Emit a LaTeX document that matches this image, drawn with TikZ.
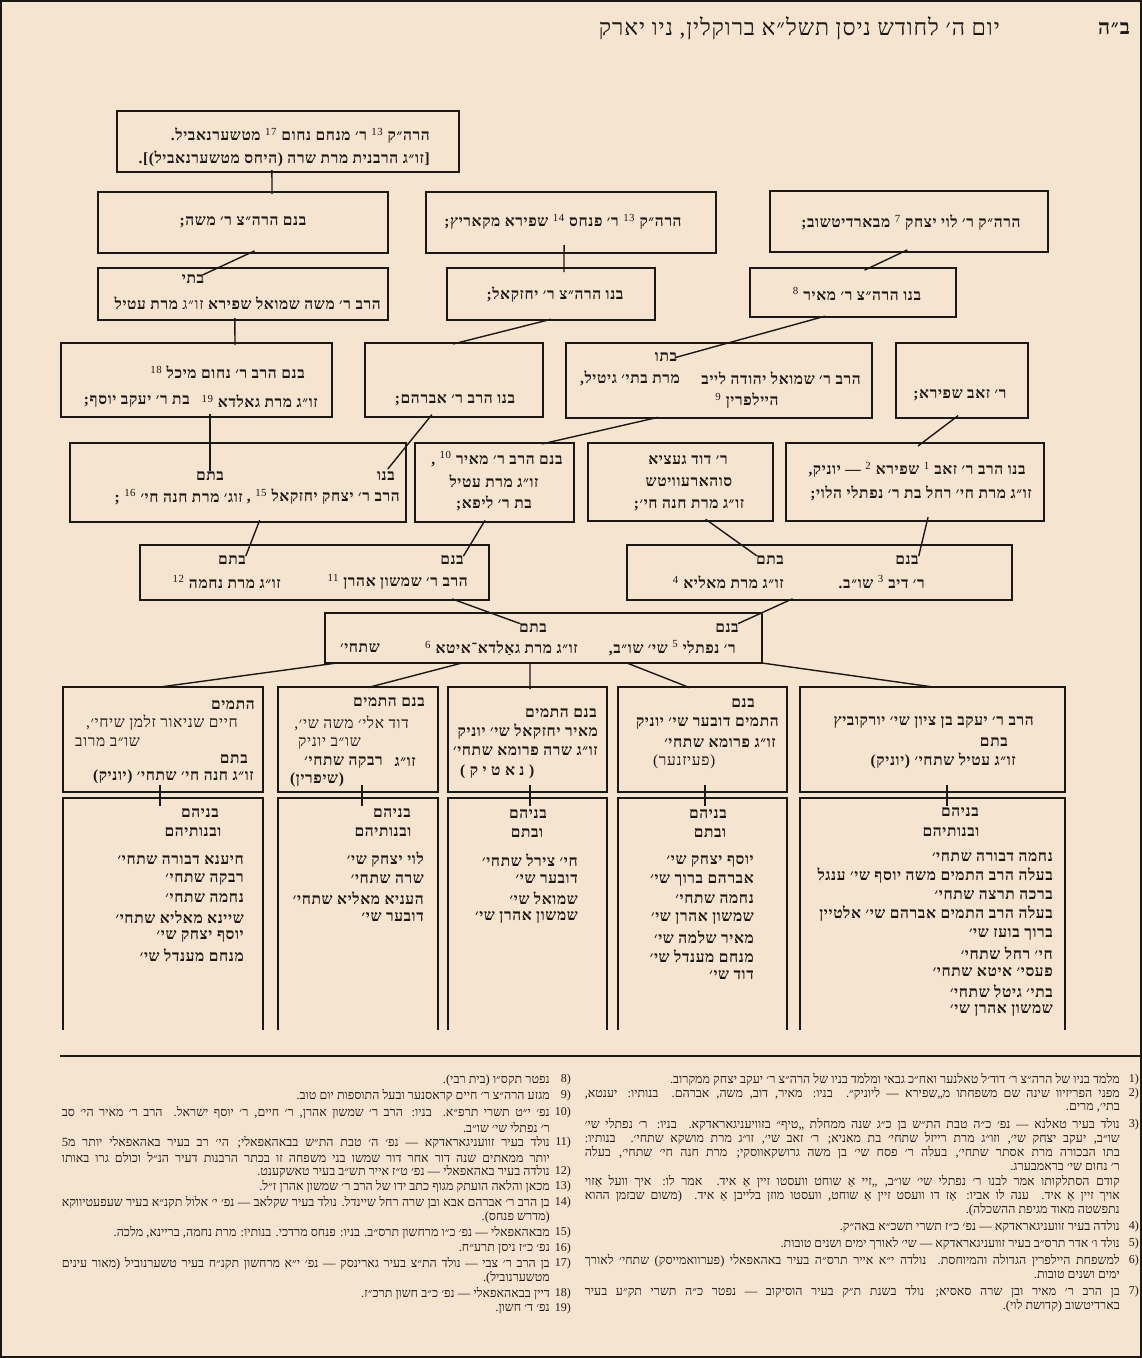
\documentclass[tikz,border=0pt]{standalone}
\usepackage{fontspec}
\setmainfont{Liberation Serif}
\newfontfamily\hebfont[Script=Hebrew,LetterSpace=4]{Liberation Serif}
\newfontfamily\hebplain[Script=Hebrew]{Liberation Serif}
\usetikzlibrary{calc}
\TeXXeTstate=1
\definecolor{paper}{RGB}{245,228,208}
\definecolor{ink}{RGB}{28,24,22}
\newcommand\HR[1]{\beginR#1\endR}
\newcommand\JL[2]{\hbox to #1{#2}}
\newcommand\fm[1]{\textsuperscript{\mdseries #1}}
\newcommand\BX[5]{\node[box,anchor=north west,minimum width=#4,minimum height=#5] (#1) at (#2,#3) {};}
% open-bottom box: name, left x, right x
\newcommand\KB[3]{\coordinate (#1nw) at (#2,798); \coordinate (#1ne) at (#3,798);
  \draw[ink,line width=1.3pt] (#2,1030) -- (#1nw) -- (#1ne) -- (#3,1030);}
\tikzset{
  box/.style={draw=ink,line width=1.3pt,inner sep=0pt,outer sep=0pt},
  link/.style={draw=ink,line width=1.4pt},
  tb/.style={font=\hebfont\bfseries\fontsize{15.5}{17}\selectfont,text=ink,inner sep=0pt},
  jb/.style={font=\hebfont\bfseries\fontsize{15.5}{17}\selectfont,text=ink,inner sep=0pt},
  jr/.style={font=\hebfont\fontsize{15.5}{17}\selectfont,text=ink,inner sep=0pt},
  fnt/.style={font=\hebplain\fontsize{12.5}{14}\selectfont,text=ink,inner sep=0pt,anchor=east},
  fnum/.style={font=\hebplain\fontsize{12}{14}\selectfont,text=ink,inner sep=0pt,anchor=east},
}
\begin{document}
\begin{tikzpicture}[x=1pt,y=-1pt]
\fill[paper] (0,0) rectangle (1142,1358);
\useasboundingbox (0,0) rectangle (1142,1358);
\draw[ink,line width=1.6pt] (1,1) rectangle (1141,1357);

% header
\node[tb,font=\hebfont\bfseries\fontsize{21}{23}\selectfont] (bh) at (1114,28) {\HR{ב״ה}};
\node[tb,anchor=east,font=\hebfont\fontsize{23}{25}\selectfont] (date) at (1000,28) {\HR{יום ה׳ לחודש ניסן תשל״א ברוקלין, ניו יארק}};

% row 1
\BX{A}{117}{111}{342}{61}
\node[tb,anchor=east] (a1) at (430,136) {\HR{הרה״ק \fm{13} ר׳ מנחם נחום \fm{17} מטשערנאביל.}};
\node[tb,anchor=east] (a2) at (430,159) {\HR{[זו״ג הרבנית מרת שרה (היחס מטשערנאביל)].}};

% row 2
\BX{B1}{98}{192}{290}{61}
\node[tb] (b1) at (243,222) {\HR{בנם הרה״צ ר׳ משה;}};
\BX{D1}{426}{192}{290}{61}
\node[tb] (d1) at (563,222) {\HR{הרה״ק \fm{13} ר׳ פנחס \fm{14} שפירא מקאריץ;}};
\BX{E1}{770}{191}{278}{61}
\node[tb] (e1) at (911,223) {\HR{הרה״ק ר׳ לוי יצחק \fm{7} מבארדיטשוב;}};

% row 3
\BX{C1}{98}{268}{290}{52}
\node[tb] (c1h) at (193,279) {\HR{בתי}};
\node[tb,anchor=east] (c1l) at (381,303) {\HR{הרב ר׳ משה שמואל שפירא {\mdseries זו״ג} מרת עטיל}};
\BX{D2}{447}{268}{208}{52}
\node[tb] (d2) at (555,295) {\HR{בנו הרה״צ ר׳ יחזקאל;}};
\BX{E2}{750}{268}{206}{49}
\node[tb] (e2) at (857,294) {\HR{בנו הרה״צ ר׳ מאיר \fm{8}}};

% row 4
\BX{F1}{61}{343}{271}{74}
\node[tb,anchor=east] (f1a) at (305,372) {\HR{בנם הרב ר׳ נחום מיכל \fm{18}}};
\node[tb,anchor=east] (f1b) at (318,401) {\HR{זו״ג מרת גאלדא \fm{19}}};
\node[tb,anchor=east] (f1c) at (190,401) {\HR{בת ר׳ יעקב יוסף;}};
\BX{F2}{365}{343}{178}{74}
\node[tb] (f2) at (455,400) {\HR{בנו הרב ר׳ אברהם;}};
\BX{F3}{566}{343}{306}{75}
\node[tb] (f3h) at (666,357) {\HR{בתו}};
\node[tb,anchor=east] (f3a) at (861,378) {\HR{הרב ר׳ שמואל יהודה לייב}};
\node[tb,anchor=east] (f3b) at (680,378) {\HR{מרת בתי׳ גיטיל,}};
\node[tb] (f3c) at (747,401) {\HR{היילפרין \fm{9}}};
\BX{F4}{896}{343}{132}{75}
\node[tb] (f4) at (960,395) {\HR{ר׳ זאב שפירא;}};

% row 5
\BX{G1}{70}{443}{336}{79}
\node[tb] (g1n) at (386,476) {\HR{בנו}};
\node[tb] (g1t) at (210,476) {\HR{בתם}};
\node[tb,anchor=east] (g1a) at (400,497) {\HR{הרב ר׳ יצחק יחזקאל \fm{15} ,}};
\node[tb,anchor=east] (g1b) at (243,497) {\HR{זוג׳ מרת חנה חי׳ \fm{16} ;}};
\BX{G2}{415}{443}{159}{79}
\node[tb] (g2a) at (497,459) {\HR{בנם הרב ר׳ מאיר \fm{10} ,}};
\node[tb] (g2b) at (494,481) {\HR{זו״ג מרת עטיל}};
\node[tb] (g2c) at (494,503) {\HR{בת ר׳ ליפא;}};
\BX{G3}{588}{443}{185}{78}
\node[tb] (g3a) at (688,460) {\HR{ר׳ דוד געציא}};
\node[tb] (g3b) at (689,482) {\HR{סוהארעוויטש}};
\node[tb] (g3c) at (689,505) {\HR{זו״ג מרת חנה חי׳;}};
\BX{G4}{786}{443}{258}{78}
\node[tb] (g4a) at (917,470) {\HR{בנו הרב ר׳ זאב \fm{1} שפירא \fm{2} — יוניק,}};
\node[tb] (g4b) at (921,493) {\HR{זו״ג מרת חי׳ רחל בת ר׳ נפתלי הלוי;}};

% row 6
\BX{H1}{140}{545}{349}{55}
\node[tb] (h1n) at (452,560) {\HR{בנם}};
\node[tb] (h1t) at (232,560) {\HR{בתם}};
\node[tb,anchor=east] (h1a) at (468,582) {\HR{הרב ר׳ שמשון אהרן \fm{11}}};
\node[tb,anchor=east] (h1b) at (281,582) {\HR{זו״ג מרת נחמה \fm{12}}};
\BX{H2}{627}{545}{385}{55}
\node[tb] (h2n) at (907,560) {\HR{בנם}};
\node[tb] (h2t) at (770,560) {\HR{בתם}};
\node[tb,anchor=east] (h2a) at (925,582) {\HR{ר׳ דיב \fm{3} שו״ב.}};
\node[tb,anchor=east] (h2b) at (784,582) {\HR{זו״ג מרת מאליא \fm{4}}};

% row 7
\BX{I}{325}{613}{437}{50}
\node[tb] (in) at (727,628) {\HR{בנם}};
\node[tb] (it) at (533,628) {\HR{בתם}};
\node[tb,anchor=east] (ia) at (736,648) {\HR{ר׳ נפתלי \fm{5} שי׳ שו״ב,}};
\node[tb,anchor=east] (ib) at (578,648) {\HR{זו״ג מרת גאַלדא־איטא \fm{6}}};
\node[tb,anchor=east] (ic) at (380,648) {\HR{שתחי׳}};

% row 8
\BX{J1}{63}{687}{200}{105}
\node[jb,anchor=east] (j1a) at (255,705) {\HR{התמים}};
\node[jr,anchor=east] (j1b) at (238,723) {\HR{חיים שניאור זלמן שיחי׳,}};
\node[jr,anchor=west] (j1c) at (75,742) {\HR{שו״ב מרוב}};
\node[jb,anchor=east] (j1d) at (248,759) {\HR{בתם}};
\node[jb,anchor=east] (j1e) at (254,777) {\HR{זו״ג חנה חי׳ שתחי׳ (יוניק)}};
\BX{J2}{278}{687}{160}{105}
\node[jb,anchor=east] (j2a) at (425,702) {\HR{בנם התמים}};
\node[jr,anchor=east] (j2b) at (409,723) {\HR{דוד אלי׳ משה שי׳,}};
\node[jr,anchor=east] (j2c) at (361,743) {\HR{שו״ב יוניק}};
\node[jb,anchor=east] (j2d2) at (416,762) {\HR{זו״ג}};
\node[jb,anchor=east] (j2d) at (383,762) {\HR{רבקה שתחי׳}};
\node[jb,anchor=west] (j2e) at (290,780) {\HR{(שיפרין)}};
\BX{J3}{448}{687}{159}{105}
\node[jb,anchor=east] (j3a) at (597,713) {\HR{בנם התמים}};
\node[jb,anchor=east] (j3b) at (598,732) {\HR{מאיר יחזקאל שי׳ יוניק}};
\node[jb,anchor=east] (j3c) at (598,751) {\HR{זו״ג שרה פרומא שתחי׳}};
\node[jb,anchor=west] (j3d) at (460,772) {\HR{( נ א ט י ק )}};
\BX{J4}{618}{687}{169}{105}
\node[jb,anchor=east] (j4a) at (755,703) {\HR{בנם}};
\node[jb,anchor=east] (j4b) at (779,723) {\HR{התמים דובער שי׳ יוניק}};
\node[jb,anchor=east] (j4c) at (776,743) {\HR{זו״ג פרומא שתחי׳}};
\node[jr,anchor=west] (j4d) at (653,762) {\HR{(פעיזנער)}};
\BX{J5}{800}{687}{265}{105}
\node[jb,anchor=east] (j5a) at (1034,722) {\HR{הרב ר׳ יעקב בן ציון שי׳ יורקוביץ}};
\node[jb,anchor=east] (j5b) at (1008,742) {\HR{בתם}};
\node[jb,anchor=east] (j5c) at (1016,761) {\HR{זו״ג עטיל שתחי׳ (יוניק)}};

% row 9 (open-bottom boxes)
\KB{K1}{63}{263}
\KB{K2}{278}{438}
\KB{K3}{448}{607}
\KB{K4}{618}{787}
\KB{K5}{800}{1065}

\node[jb] (k1h) at (200,813) {\HR{בניהם}};
\node[jb] (k1g) at (193,832) {\HR{ובנותיהם}};
\node[jb,anchor=east] (k1a) at (244,860) {\HR{חיענא דבורה שתחי׳}};
\node[jb,anchor=east] (k1b) at (244,879) {\HR{רבקה שתחי׳}};
\node[jb,anchor=east] (k1c) at (244,898) {\HR{נחמה שתחי׳}};
\node[jb,anchor=east] (k1d) at (244,917) {\HR{שיינא מאליא שתחי׳}};
\node[jb,anchor=east] (k1e) at (244,936) {\HR{יוסף יצחק שי׳}};
\node[jb,anchor=east] (k1f) at (244,955) {\HR{מנחם מענדל שי׳}};

\node[jb] (k2h) at (392,813) {\HR{בניהם}};
\node[jb] (k2g) at (383,832) {\HR{ובנותיהם}};
\node[jb,anchor=east] (k2a) at (424,860) {\HR{לוי יצחק שי׳}};
\node[jb,anchor=east] (k2b) at (424,879) {\HR{שרה שתחי׳}};
\node[jb,anchor=east] (k2c) at (424,898) {\HR{העניא מאליא שתחי׳}};
\node[jb,anchor=east] (k2d) at (424,917) {\HR{דובער שי׳}};

\node[jb] (k3h) at (528,814) {\HR{בניהם}};
\node[jb] (k3g) at (527,833) {\HR{ובתם}};
\node[jb,anchor=east] (k3a) at (578,860) {\HR{חי׳ צירל שתחי׳}};
\node[jb,anchor=east] (k3b) at (578,879) {\HR{דובער שי׳}};
\node[jb,anchor=east] (k3c) at (578,898) {\HR{שמואל שי׳}};
\node[jb,anchor=east] (k3d) at (578,917) {\HR{שמשון אהרן שי׳}};

\node[jb] (k4h) at (708,814) {\HR{בניהם}};
\node[jb] (k4g) at (710,833) {\HR{ובתם}};
\node[jb,anchor=east] (k4a) at (754,861) {\HR{יוסף יצחק שי׳}};
\node[jb,anchor=east] (k4b) at (754,880) {\HR{אברהם ברוך שי׳}};
\node[jb,anchor=east] (k4c) at (754,899) {\HR{נחמה שתחי׳}};
\node[jb,anchor=east] (k4d) at (754,918) {\HR{שמשון אהרן שי׳}};
\node[jb,anchor=east] (k4e) at (754,937) {\HR{מאיר שלמה שי׳}};
\node[jb,anchor=east] (k4f) at (754,956) {\HR{מנחם מענדל שי׳}};
\node[jb,anchor=east] (k4g2) at (754,975) {\HR{דוד שי׳}};

\node[jb] (k5h) at (960,812) {\HR{בניהם}};
\node[jb] (k5g) at (951,832) {\HR{ובנותיהם}};
\node[jb,anchor=east] (k5a) at (1053,857) {\HR{נחמה דבורה שתחי׳}};
\node[jb,anchor=east] (k5b) at (1053,876) {\HR{בעלה הרב התמים משה יוסף שי׳ ענגל}};
\node[jb,anchor=east] (k5c) at (1053,895) {\HR{ברכה תרצה שתחי׳}};
\node[jb,anchor=east] (k5d) at (1053,914) {\HR{בעלה הרב התמים אברהם שי׳ אלטיין}};
\node[jb,anchor=east] (k5e) at (1053,934) {\HR{ברוך בועז שי׳}};
\node[jb,anchor=east] (k5f) at (1053,953) {\HR{חי׳ רחל שתחי׳}};
\node[jb,anchor=east] (k5g2) at (1053,972) {\HR{פעסי׳ איטא שתחי׳}};
\node[jb,anchor=east] (k5i) at (1053,991) {\HR{בתי׳ גיטל שתחי׳}};
\node[jb,anchor=east] (k5j) at (1053,1010) {\HR{שמשון אהרן שי׳}};

% connectors
\draw[link,shorten <=-2pt,shorten >=-2pt] ($(A.south west)!0.453!(A.south east)$) -- ($(B1.north west)!0.6!(B1.north east)$);
\draw[link,shorten <=-5pt,shorten >=-2pt] ($(B1.south west)!0.524!(B1.south east)$) -- (c1h.north east);
\draw[link,shorten <=-8pt,shorten >=-4pt] ($(D1.south west)!0.476!(D1.south east)$) -- ($(D2.north west)!0.5625!(D2.north east)$);
\draw[link,shorten <=-5pt,shorten >=-5pt] ($(E1.south west)!0.478!(E1.south east)$) -- ($(E2.north west)!0.578!(E2.north east)$);
\draw[link,shorten <=-2pt,shorten >=-2pt] ($(C1.south west)!0.472!(C1.south east)$) -- ($(F1.north west)!0.642!(F1.north east)$);
\draw[link,shorten <=-3pt,shorten >=-4pt] ($(D2.south west)!0.486!(D2.south east)$) -- ($(F2.north west)!0.517!(F2.north east)$);
\draw[link,shorten <=-3pt,shorten >=-2pt] ($(E2.south west)!0.35!(E2.south east)$) -- (f3h.east);
\draw[link,shorten <=-3pt] (F1.south -| g1t.north) -- (g1t.north);
\draw[link,shorten <=-3pt,shorten >=3pt] ($(F2.south west)!0.365!(F2.south east)$) -- (g1n.north);
\draw[link,shorten <=-3pt,shorten >=-4pt] ($(F3.south west)!0.291!(F3.south east)$) -- ($(G2.north west)!0.824!(G2.north east)$);
\draw[link,shorten <=-4pt,shorten >=-5pt] ($(F4.south west)!0.447!(F4.south east)$) -- ($(G4.north west)!0.527!(G4.north east)$);
\draw[link,shorten <=-2pt,shorten >=-1pt] ($(G1.south west)!0.5625!(G1.south east)$) -- (h1t.north east);
\draw[link,shorten <=-2pt,shorten >=-1pt] ($(G2.south west)!0.434!(G2.south east)$) -- (h1n.north east);
\draw[link,shorten <=-3pt,shorten >=-1pt] ($(G3.south west)!0.649!(G3.south east)$) -- (h2t.north west);
\draw[link,shorten <=-4pt,shorten >=-1pt] ($(G4.south west)!0.547!(G4.south east)$) -- (h2n.north east);
\draw[link,shorten <=-3pt,shorten >=-1pt] ($(H1.south west)!0.9026!(H1.south east)$) -- (it.north west);
\draw[link,shorten <=-3pt,shorten >=-1pt] ($(H2.south west)!0.423!(H2.south east)$) -- (in.north east);
\draw[link,shorten >=-2pt] ($(I.south west)!0.027!(I.south east)$) -- ($(J1.north west)!0.485!(J1.north east)$);
\draw[link,shorten >=-2pt] ($(I.south west)!0.3135!(I.south east)$) -- ($(J2.north west)!0.575!(J2.north east)$);
\draw[link,shorten >=-2pt] ($(I.south west)!0.469!(I.south east)$) -- ($(J3.north west)!0.516!(J3.north east)$);
\draw[link,shorten >=-2pt] ($(I.south west)!0.691!(I.south east)$) -- ($(J4.north west)!0.414!(J4.north east)$);
\draw[link,shorten >=-2pt] (I.south east) -- ($(J5.north west)!0.502!(J5.north east)$);
\draw[link,shorten <=-7pt,shorten >=-8pt] ($(J1.south west)!0.485!(J1.south east)$) -- ($(K1nw)!0.485!(K1ne)$);
\draw[link,shorten <=-7pt,shorten >=-8pt] ($(J2.south west)!0.525!(J2.south east)$) -- ($(K2nw)!0.525!(K2ne)$);
\draw[link,shorten <=-7pt,shorten >=-8pt] ($(J3.south west)!0.516!(J3.south east)$) -- ($(K3nw)!0.516!(K3ne)$);
\draw[link,shorten <=-7pt,shorten >=-8pt] ($(J4.south west)!0.515!(J4.south east)$) -- ($(K4nw)!0.515!(K4ne)$);
\draw[link,shorten <=-7pt,shorten >=-8pt] ($(J5.south west)!0.555!(J5.south east)$) -- ($(K5nw)!0.555!(K5ne)$);

% separator
\coordinate (sepL) at (60,1056);
\coordinate (sepR) at (1140,1056);
\draw[ink,line width=1.5pt] (sepL) -- (sepR);

% footnotes right column
\node[fnum] (m1) at (1139,1080) {(1};
\node[fnt] (r1) at (1120,1080) {\HR{מלמד בניו של הרה״צ ר׳ דוד׳ל טאלנער ואח״כ גבאי ומלמד בניו של הרה״צ ר׳ יעקב יצחק ממקרוב.}};
\node[fnum] (m2) at (1139,1094) {(2};
\node[fnt] (r2a) at (1120,1094) {\JL{535pt}{\HR{מפני הפריזיוו שינה שם משפחתו מ„שפירא — ליוניק״. בניו: מאיר, דוב, משה, אברהם. בנותיו: יענטא,}}};
\node[fnt] (r2b) at (1120,1108) {\HR{בתי׳, מרים.}};
\node[fnum] (m3) at (1139,1125) {(3};
\node[fnt] (r3a) at (1120,1125) {\JL{535pt}{\HR{נולד בעיר טאלנא — נפ׳ כ״ה טבת הת״ש בן כ״ג שנה ממחלת „טיף״ בזוויעניגאראדקא. בניו: ר׳ נפתלי שי׳}}};
\node[fnt] (r3b) at (1120,1139) {\JL{535pt}{\HR{שו״ב, יעקב יצחק שי׳, וזו״ג מרת רייזל שתחי׳ בת מאניא; ר׳ זאב שי׳, זו״ג מרת מושקא שתחי׳. בנותיו:}}};
\node[fnt] (r3c) at (1120,1153) {\JL{535pt}{\HR{בתו הבכורה מרת אסתר שתחי׳, בעלה ר׳ פסח שי׳ בן משה גרושקאווסקי; מרת חנה חי׳ שתחי׳, בעלה}}};
\node[fnt] (r3d) at (1120,1167) {\HR{ר׳ נחום שי׳ בראמבערג.}};
\node[fnt] (r3e) at (1120,1182) {\JL{535pt}{\HR{קודם הסתלקותו אמר לבנו ר׳ נפתלי שי׳ שו״ב, „זיי אַ שוחט וועסטו זיין אַ איד. אמר לו: איך וועל אַזוי}}};
\node[fnt] (r3f) at (1120,1196) {\JL{535pt}{\HR{אויך זיין אַ איד. ענה לו אביו: אַז דו וועסט זיין אַ שוחט, וועסטו מוזן בלייבן אַ איד. (משום שבזמן ההוא}}};
\node[fnt] (r3g) at (1120,1210) {\HR{נתפשטה מאוד מגיפת ההשכלה).}};
\node[fnum] (m4) at (1139,1227) {(4};
\node[fnt] (r4) at (1120,1227) {\HR{נולדה בעיר זוועניגאראדקא — נפ׳ כ״ז תשרי תשכ״א באה״ק.}};
\node[fnum] (m5) at (1139,1244) {(5};
\node[fnt] (r5) at (1120,1244) {\HR{נולד ו׳ אדר תרס״ב בעיר זוועניגאראדקא — שי׳ לאורך ימים ושנים טובות.}};
\node[fnum] (m6) at (1139,1261) {(6};
\node[fnt] (r6a) at (1120,1261) {\JL{535pt}{\HR{למשפחת היילפרין הגדולה והמיוחסת. נולדה י״א אייר תרס״ה בעיר באהאפאלי (פערוואמייסק) שתחי׳ לאורך}}};
\node[fnt] (r6b) at (1120,1275) {\HR{ימים ושנים טובות.}};
\node[fnum] (m7) at (1139,1292) {(7};
\node[fnt] (r7a) at (1120,1292) {\JL{535pt}{\HR{בן הרב ר׳ מאיר ובן שרה סאסיא; נולד בשנת ת״ק בעיר הוסיקוב — נפטר כ״ה תשרי תק״ע בעיר}}};
\node[fnt] (r7b) at (1120,1306) {\HR{בארדיטשוב (קדושת לוי).}};

% footnotes left column
\node[fnum] (m8) at (571,1080) {(8};
\node[fnt] (l8) at (550,1080) {\HR{נפטר תקס״ו (בית רבי).}};
\node[fnum] (m9) at (571,1096) {(9};
\node[fnt] (l9) at (550,1096) {\HR{מגזע הרה״צ ר׳ חיים קראסנער ובעל התוספות יום טוב.}};
\node[fnum] (m10) at (571,1113) {(10};
\node[fnt] (l10a) at (550,1113) {\JL{488pt}{\HR{נפ׳ י״ט תשרי תרפ״א. בניו: הרב ר׳ שמשון אהרן, ר׳ חיים, ר׳ יוסף ישראל. הרב ר׳ מאיר הי׳ סב}}};
\node[fnt] (l10b) at (550,1127) {\HR{ר׳ נפתלי שי׳ שו״ב.}};
\node[fnum] (m11) at (571,1143) {(11};
\node[fnt] (l11a) at (550,1143) {\JL{488pt}{\HR{נולד בעיר זוועניגאראדקא — נפ׳ ה׳ טבת הת״ש בבאהאפאלי; הי׳ רב בעיר באהאפאלי יותר מ5}}};
\node[fnt] (l11b) at (550,1157) {\JL{488pt}{\HR{יותר ממאתים שנה דור אחר דור שמשו בני משפחה זו בכתר הרבנות דעיר הנ״ל וכולם גרו באותו}}};
\node[fnum] (m12) at (571,1172) {(12};
\node[fnt] (l12) at (550,1172) {\HR{נולדה בעיר באהאפאלי — נפ׳ ט״ז אייר תש״ב בעיר טאשקענט.}};
\node[fnum] (m13) at (571,1187) {(13};
\node[fnt] (l13) at (550,1187) {\HR{מכאן והלאה הועתק מגוף כתב ידו של הרב ר׳ שמשון אהרן ז״ל.}};
\node[fnum] (m14) at (571,1203) {(14};
\node[fnt] (l14a) at (550,1203) {\JL{488pt}{\HR{בן הרב ר׳ אברהם אבא ובן שרה רחל שיינדל. נולד בעיר שקלאב — נפ׳ י׳ אלול תקנ״א בעיר שעפעטיווקא}}};
\node[fnt] (l14b) at (550,1217) {\HR{(מדרש פנחס).}};
\node[fnum] (m15) at (571,1233) {(15};
\node[fnt] (l15) at (550,1233) {\HR{מבאהאפאלי — נפ׳ כ״ו מרחשון תרס״ב. בניו: פנחס מרדכי. בנותיו: מרת נחמה, בריינא, מלכה.}};
\node[fnum] (m16) at (571,1249) {(16};
\node[fnt] (l16) at (550,1249) {\HR{נפ׳ כ״ז ניסן תרע״ח.}};
\node[fnum] (m17) at (571,1264) {(17};
\node[fnt] (l17a) at (550,1264) {\JL{488pt}{\HR{בן הרב ר׳ צבי — נולד הת״צ בעיר גארינסק — נפ׳ י״א מרחשון תקנ״ח בעיר טשערנוביל (מאור עינים}}};
\node[fnt] (l17b) at (550,1278) {\HR{מטשערנוביל).}};
\node[fnum] (m18) at (571,1294) {(18};
\node[fnt] (l18) at (550,1294) {\HR{דיין בבאהאפאלי — נפ׳ כ״ב חשון תרכ״ז.}};
\node[fnum] (m19) at (571,1309) {(19};
\node[fnt] (l19) at (550,1309) {\HR{נפ׳ ד׳ חשון.}};
\end{tikzpicture}
\end{document}
